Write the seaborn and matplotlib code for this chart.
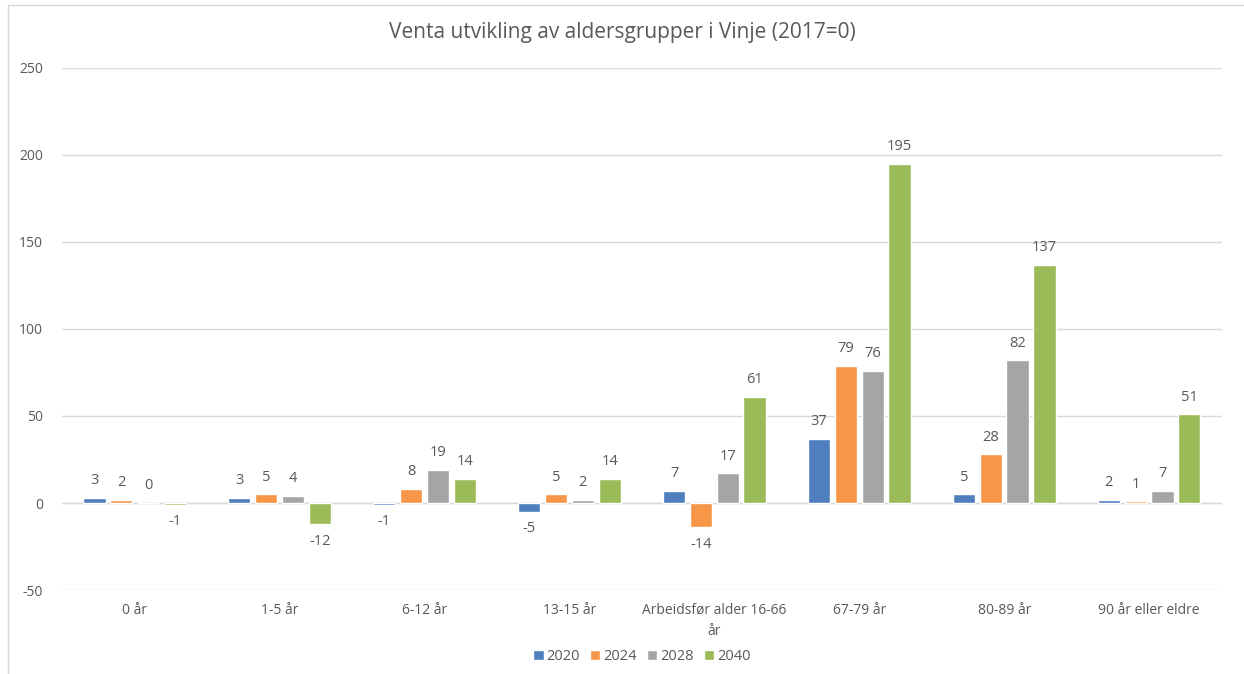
import pandas as pd
import matplotlib.pyplot as plt
import seaborn as sns
from matplotlib.lines import Line2D

# data
kategoriar = ['0 år', '1-5 år', '6-12 år', '13-15 år', 'Arbeidsfør alder 16-66\når',
              '67-79 år', '80-89 år', '90 år eller eldre']
aar = ['2020', '2024', '2028', '2040']
v2020 = [3, 3, -1, -5, 7, 37, 5, 2]
v2024 = [2, 5, 8, 5, -14, 79, 28, 1]
v2028 = [0, 4, 19, 2, 17, 76, 82, 7]
v2040 = [-1, -12, 14, 14, 61, 195, 137, 51]

farger = ['#4F7FBF', '#F79646', '#A5A5A5', '#9BBB59']
tekstfarge = '#595959'

rows = []
for serie, verdiar in zip(aar, [v2020, v2024, v2028, v2040]):
    for kat, v in zip(kategoriar, verdiar):
        rows.append({'kategori': kat, 'år': serie, 'endring': v})
df = pd.DataFrame(rows)

sns.set_style('white')
plt.rcParams['font.family'] = ['Open Sans', 'DejaVu Sans']
plt.rcParams['axes.unicode_minus'] = False

fig = plt.figure(figsize=(12.44, 6.74), dpi=100)
ax = fig.add_axes([0.05, 0.1246, 0.932, 0.7746])

sns.barplot(data=df, x='kategori', y='endring', hue='år', palette=farger,
            width=0.74, gap=0.17, ax=ax, errorbar=None, saturation=1)

for c in ax.containers:
    ax.bar_label(c, padding=7, fontsize=10.5, color=tekstfarge)

ax.set_ylim(-50, 250)
ax.set_yticks(range(-50, 251, 50))
ax.yaxis.grid(True, color='#D9D9D9', linewidth=1)
ax.set_axisbelow(True)
for s in ax.spines.values():
    s.set_visible(False)
ax.axhline(0, color='#D9D9D9', linewidth=1, zorder=0.5)
ax.tick_params(axis='both', length=0, labelsize=10, labelcolor=tekstfarge)
ax.tick_params(axis='y', pad=14)
ax.tick_params(axis='x', pad=9)
for t in ax.get_xticklabels():
    t.set_linespacing(1.6)
ax.set_xlabel('')
ax.set_ylabel('')

fig.suptitle('Venta utvikling av aldersgrupper i Vinje (2017=0)', y=0.967,
             fontsize=15, color=tekstfarge)

ax.legend(loc='center', bbox_to_anchor=(0.5, -0.128), ncol=4, frameon=False,
          fontsize=10.5, labelcolor=tekstfarge, handlelength=0.7, handleheight=0.7,
          handletextpad=0.2, columnspacing=0.7)

# chart frame (left and top edges visible)
x0 = 8 / 1244
y1 = 1 - 5 / 674
fig.add_artist(Line2D([x0, x0], [0, y1], color='#D9D9D9', linewidth=1))
fig.add_artist(Line2D([x0, 1], [y1, y1], color='#D9D9D9', linewidth=1))

plt.savefig('out.png', dpi=100)
